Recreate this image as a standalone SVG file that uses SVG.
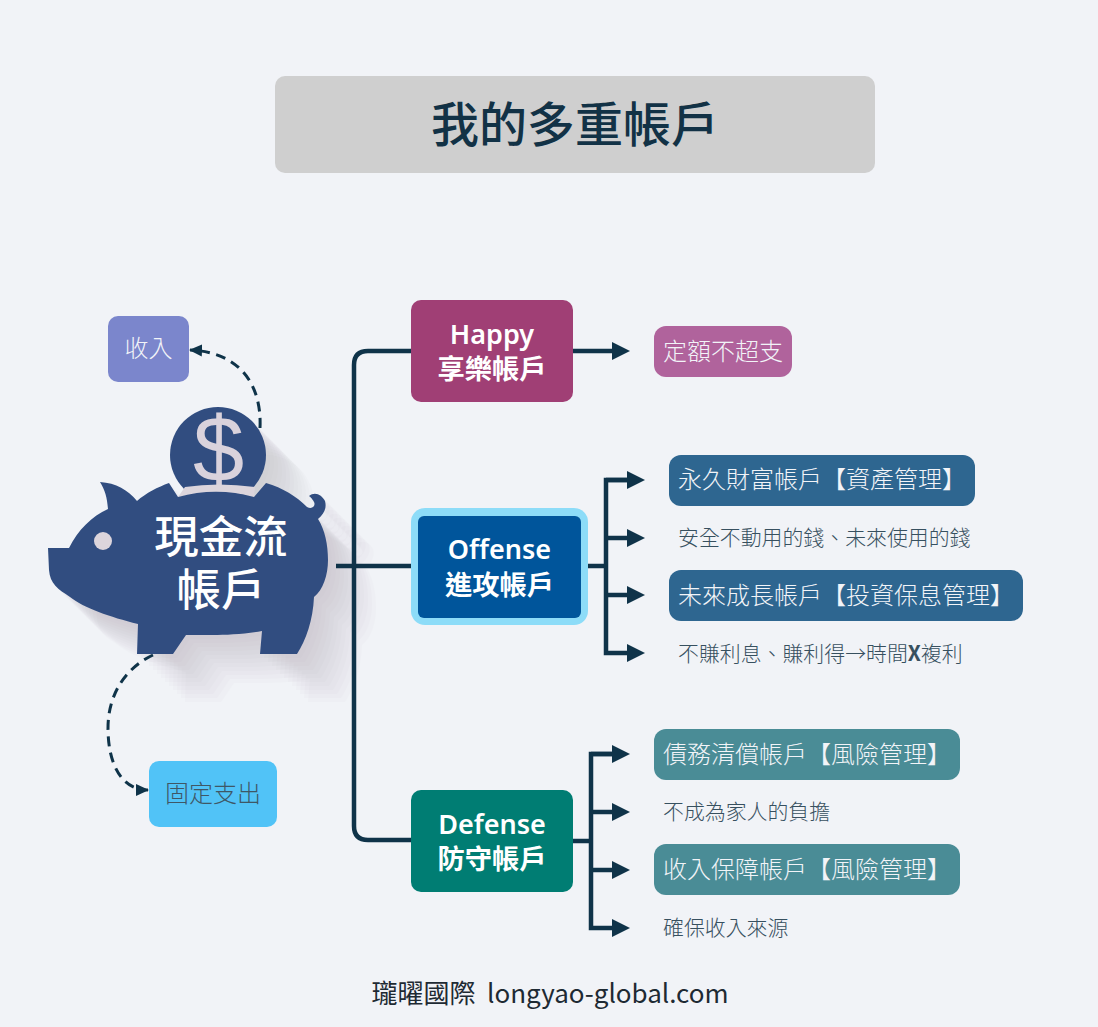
<svg xmlns="http://www.w3.org/2000/svg" width="1098" height="1027" viewBox="0 0 1098 1027">
<style>
text{font-family:"Noto Sans CJK TC","Noto Sans",sans-serif;text-anchor:middle}
.w{fill:#fff;font-weight:500}
.l{font-size:24px;fill:#f2f4f8;font-weight:300}
.ls{text-anchor:start}
.s{font-size:20.9px;fill:#37505f;text-anchor:start;font-weight:300}
.h{font-size:27px;font-weight:600;fill:#fff;font-family:"Noto Sans","Noto Sans CJK TC",sans-serif}
.c{font-size:27.300px;font-weight:700;fill:#fff}
.line{fill:none;stroke:#0f3349;stroke-width:4.5}
.arrow{marker-end:url(#a)}
.dash{fill:none;stroke:#0f3349;stroke-width:3;stroke-dasharray:10 6.5}
.sd{opacity:.026}
</style>
<defs>
<marker id="a" markerUnits="userSpaceOnUse" markerWidth="18" markerHeight="18" refX="0" refY="9" orient="auto"><path d="M0 0L18 9L0 18Z" fill="#0f3349"/></marker>
<marker id="d" markerUnits="userSpaceOnUse" markerWidth="14" markerHeight="14" refX="12" refY="7" orient="auto"><path d="M0 1L13 7L0 13Z" fill="#0f3349"/></marker>
<path id="body" d="M48 548L69 548C78 530 92 516 108 509C107 497 105 490 100 482C116 483 128 490 137 501C146 493 158 487 169 483L178 497C203 490 229 490 254 497L266 483C283 488 296 496 307 507C312 510 316 506 314 502C312 498 309 496 309 496C315 491 322 495 325 501C327 508 324 514 318 519C325 530 328 545 328 560C328 575 323 590 314 597C313 620 306 640 297 654L260 654L262 631C246 634 226 635 213 635L186 635L173 654L137 654L138 624C110 617 84 608 70 597C58 589 50 584 49 570Z"/>
<g id="sil" fill="#9a8a9a"><use href="#body"/><circle cx="218" cy="455" r="48"/></g>
</defs>
<rect width="1098" height="1027" fill="#f1f3f7"/>
<g id="title"><rect x="275" y="76" width="600" height="97" rx="10" fill="#cfcfcf"/><text x="575" y="142" font-size="48" font-weight="500" fill="#123246">我的多重帳戶</text></g>
<g id="shadow">
<use href="#sil" class="sd" x="4" y="4"/><use href="#sil" class="sd" x="8" y="8"/><use href="#sil" class="sd" x="12" y="12"/><use href="#sil" class="sd" x="16" y="16"/><use href="#sil" class="sd" x="20" y="20"/><use href="#sil" class="sd" x="24" y="24"/><use href="#sil" class="sd" x="28" y="28"/><use href="#sil" class="sd" x="32" y="32"/><use href="#sil" class="sd" x="36" y="36"/><use href="#sil" class="sd" x="40" y="40"/><use href="#sil" class="sd" x="44" y="44"/><use href="#sil" class="sd" x="48" y="48"/>
</g>
<g id="connectors">
<path class="line" d="M336 566H411"/>
<path class="line" d="M411 351H368Q354 351 354 365V826Q354 840 368 840H411"/>
<path class="line arrow" d="M573 351H612"/>
<path class="line" d="M588 566H608"/>
<path class="line arrow" d="M627 480H606V653H627"/>
<path class="line arrow" d="M606 538H627"/>
<path class="line arrow" d="M606 595H627"/>
<path class="line arrow" d="M606 480H627"/>
<path class="line" d="M573 841H593"/>
<path class="line arrow" d="M591 754H612"/>
<path class="line arrow" d="M591 812H612"/>
<path class="line arrow" d="M591 870H612"/>
<path class="line arrow" d="M612 754H591V928H612"/>
<path class="dash" marker-end="url(#d)" d="M260 428C262 385 240 352 190 350"/>
<path class="dash" marker-end="url(#d)" d="M153 655C125 668 108 695 108 728C108 765 122 790 148 790"/>
</g>
<g id="pig">
<circle cx="218" cy="455" r="48" fill="#314d80"/>
<text x="218.500" y="481" font-size="92" style="font-family:'Liberation Sans',sans-serif" fill="#d9d2dc">$</text>
<path d="M185 487Q218 482 255 487L254 497Q217 488 178 497Z" fill="#dcd5dc"/>
<use href="#body" fill="#314d80"/>
<circle cx="103" cy="541" r="9" fill="#dcd5dc"/>
<text class="w" x="221" y="553" font-size="44.500">現金流</text>
<text class="w" x="221" y="606" font-size="44.500">帳戶</text>
</g>
<g id="income"><rect x="108" y="316" width="81" height="66" rx="10" fill="#7b86cc"/><text class="l" x="148.500" y="357">收入</text></g>
<g id="fixed"><rect x="149" y="761" width="128" height="66" rx="10" fill="#51c3f7"/><text x="213" y="802" font-size="24" font-weight="300" fill="#3f5766">固定支出</text></g>
<g id="happy"><rect x="411" y="300" width="162" height="102" rx="10" fill="#a03f75"/><text class="h" x="492" y="344">Happy</text><text class="c" x="492" y="379">享樂帳戶</text></g>
<g id="offense"><rect x="411" y="508" width="177" height="117" rx="14" fill="#8ddcf8"/><rect x="418" y="516" width="163" height="102" rx="6" fill="#00559b"/><text class="h" x="499.500" y="559">Offense</text><text class="c" x="499.500" y="595">進攻帳戶</text></g>
<g id="defense"><rect x="411" y="790" width="162" height="102" rx="10" fill="#007d73"/><text class="h" x="492" y="834">Defense</text><text class="c" x="492" y="869">防守帳戶</text></g>
<g id="n1"><rect x="654" y="326" width="138" height="51" rx="12" fill="#b0639c"/><text class="l" x="723" y="360">定額不超支</text></g>
<g id="n2"><rect x="669" y="455" width="306" height="51" rx="12" fill="#2e6690"/><text class="l ls" x="678" y="488">永久財富帳戶【資產管理】</text></g>
<text class="s" x="678" y="545">安全不動用的錢、未來使用的錢</text>
<g id="n3"><rect x="669" y="570" width="354" height="51" rx="12" fill="#2e6690"/><text class="l ls" x="678" y="604">未來成長帳戶【投資保息管理】</text></g>
<text class="s" x="678" y="661">不賺利息、賺利得→時間<tspan font-weight="700">X</tspan>複利</text>
<g id="n4"><rect x="654" y="729" width="306" height="51" rx="12" fill="#4a8c96"/><text class="l ls" x="663" y="763">債務清償帳戶【風險管理】</text></g>
<text class="s" x="663" y="819">不成為家人的負擔</text>
<g id="n5"><rect x="654" y="844" width="306" height="51" rx="12" fill="#4a8c96"/><text class="l ls" x="663" y="878">收入保障帳戶【風險管理】</text></g>
<text class="s" x="663" y="935">確保收入來源</text>
<text x="550" y="1003" font-size="26" fill="#1e2a33" xml:space="preserve">瓏曜國際  longyao-global.com</text>
</svg>
